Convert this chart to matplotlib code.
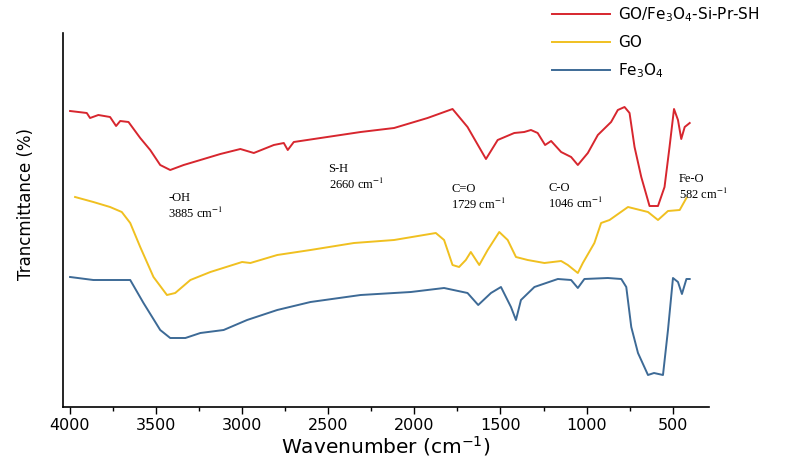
import numpy as np
import matplotlib
matplotlib.use("Agg")
import matplotlib.pyplot as plt
from matplotlib.ticker import MultipleLocator

# FTIR spectra (transmittance in arbitrary, offset units)
red_wn = [3997, 3900, 3881, 3833, 3765, 3730, 3706, 3658, 3590, 3532, 3474, 3416,
          3338, 3241, 3125, 3009, 2931, 2815, 2757, 2734, 2699, 2505, 2311, 2117,
          1923, 1778, 1691, 1584, 1516, 1420, 1362, 1323, 1284, 1241, 1206, 1148,
          1090, 1051, 993, 935, 858, 819, 780, 751, 722, 683, 635, 586, 548, 519,
          493, 470, 451, 431, 402]
red_t = [296, 294, 289, 292, 290, 281, 286, 285, 269, 257, 242, 237,
         242, 247, 253, 258, 254, 262, 264, 257, 265, 270, 275, 279,
         289, 298, 280, 248, 267, 274, 275, 277, 274, 262, 266, 255,
         250, 242, 254, 272, 285, 297, 300, 294, 260, 230, 201, 201, 220, 260,
         298, 287, 268, 280, 284]

go_wn = [3968, 3862, 3765, 3697, 3648, 3590, 3513, 3435, 3387, 3299, 3183, 2999,
         2951, 2795, 2602, 2350, 2117, 1875, 1827, 1778, 1740, 1701, 1672, 1623,
         1574, 1507, 1458, 1410, 1342, 1245, 1148, 1109, 1051, 1022, 955, 916,
         867, 760, 644, 586, 528, 460, 421]
go_t = [210, 205, 200, 195, 184, 160, 130, 112, 114, 127, 135, 145,
        144, 152, 157, 164, 167, 174, 167, 142, 140, 147, 155, 142,
        157, 175, 167, 150, 147, 144, 146, 142, 134, 144, 164, 184,
        187, 200, 195, 187, 196, 197, 209]

fe_wn = [3997, 3862, 3765, 3648, 3571, 3474, 3416, 3328, 3241, 3106, 2970, 2795,
         2602, 2311, 2020, 1827, 1691, 1629, 1555, 1497, 1439, 1410, 1381, 1303,
         1167, 1090, 1051, 1013, 877, 799, 770, 741, 702, 644, 609, 557, 528,
         499, 470, 447, 421, 402]
fe_t = [130, 127, 127, 127, 104, 77, 69, 69, 74, 77, 87, 97,
        105, 112, 115, 119, 114, 102, 114, 120, 100, 87, 107, 120,
        128, 127, 119, 128, 129, 128, 120, 80, 54, 32, 34, 32, 77,
        129, 125, 113, 128, 128]

labels = ["GO/Fe$_3$O$_4$-Si-Pr-SH", "GO", "Fe$_3$O$_4$"]
colors = ["#d7262e", "#f0c020", "#3d6a96"]

# peak annotations: (label, wavenumber, position)
peaks = [("-OH", "3885", 3427, 215),
         ("S-H", "2660", 2497, 244),
         ("C=O", "1729", 1784, 224),
         ("C-O", "1046", 1222, 225),
         ("Fe-O", "582", 464, 234)]

fig = plt.figure(figsize=(7.9, 4.68), dpi=100)
ax = fig.add_axes([63/790, 1 - 407/468, 646/790, 374/468])

for wn, t, lab, c in zip([red_wn, go_wn, fe_wn], [red_t, go_t, fe_t], labels, colors):
    ax.plot(wn, t, color=c, lw=1.4, label=lab)

for name, val, x, y in peaks:
    ax.text(x, y, name + "\n" + val + " cm$^{-1}$", family="Liberation Serif",
            math_fontfamily="stix", fontsize=9, ha="left", va="top", linespacing=1.15)

ax.set_xlim(4038, 290)
ax.set_ylim(0, 374)
ax.xaxis.set_major_locator(MultipleLocator(500))
ax.xaxis.set_minor_locator(MultipleLocator(250))
ax.tick_params(axis="x", which="major", length=5, width=1, labelsize=11.5, pad=3)
ax.tick_params(axis="x", which="minor", length=3, width=1)
ax.set_yticks([])
for s in ["top", "right"]:
    ax.spines[s].set_visible(False)
for s in ["left", "bottom"]:
    ax.spines[s].set_linewidth(1.2)

ax.set_xlabel("Wavenumber (cm$^{-1}$)", fontsize=14.5, labelpad=0.5)
ax.set_ylabel("Trancmittance (%)", fontsize=12)
ax.yaxis.set_label_coords(-0.043, 0.544)

fig.legend(loc="upper left", bbox_to_anchor=(552/790, 1 - 5/468), frameon=False,
           fontsize=11, handlelength=3.8, handletextpad=0.5, labelspacing=0.75,
           borderpad=0, borderaxespad=0)

fig.savefig("out.png", dpi=100)
